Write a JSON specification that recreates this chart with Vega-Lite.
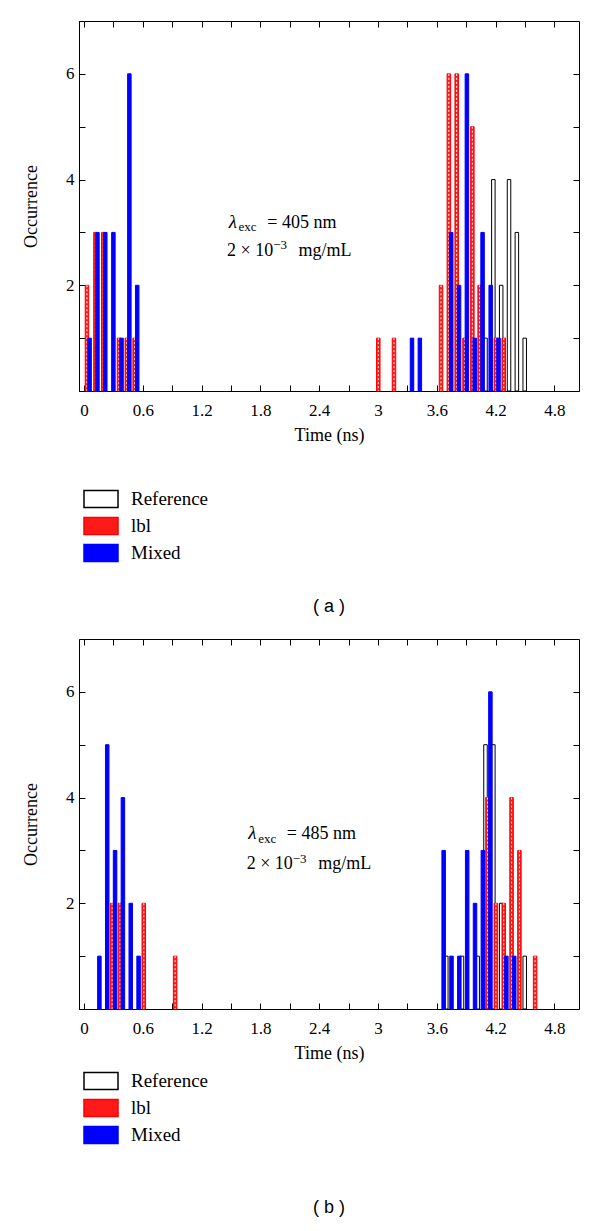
{
  "$schema": "https://vega.github.io/schema/vega-lite/v6.json",
  "background": "white",
  "padding": {"left": 22, "top": 20, "right": 5, "bottom": 5},
  "spacing": 21,
  "resolve": {"legend": {"fill": "independent", "stroke": "independent"}},
  "config": {
    "view": {"stroke": "black", "strokeWidth": 1},
    "font": "Liberation Serif",
    "axis": {"grid": false, "labelFont": "Liberation Serif", "labelFontSize": 17, "titleFont": "Liberation Serif", "titleFontSize": 18, "titleFontWeight": "normal", "labelColor": "black", "titleColor": "black", "tickColor": "black", "domainColor": "black", "tickWidth": 1, "domainWidth": 1},
    "title": {"font": "Liberation Sans", "fontSize": 18, "fontWeight": "normal", "color": "black"},
    "legend": {"labelFont": "Liberation Serif", "labelFontSize": 19, "labelColor": "black"}
  },
  "datasets": {
    "a": [
      {"series": "Reference", "t": 4.097, "n": 1},
      {"series": "Reference", "t": 4.177, "n": 4},
      {"series": "Reference", "t": 4.257, "n": 2},
      {"series": "Reference", "t": 4.337, "n": 4},
      {"series": "Reference", "t": 4.417, "n": 3},
      {"series": "Reference", "t": 4.497, "n": 1},
      {"series": "lbl", "t": 0.03, "n": 2},
      {"series": "lbl", "t": 0.117, "n": 3},
      {"series": "lbl", "t": 0.197, "n": 3},
      {"series": "lbl", "t": 0.357, "n": 1},
      {"series": "lbl", "t": 0.437, "n": 1},
      {"series": "lbl", "t": 0.517, "n": 1},
      {"series": "lbl", "t": 3.003, "n": 1},
      {"series": "lbl", "t": 3.163, "n": 1},
      {"series": "lbl", "t": 3.643, "n": 2},
      {"series": "lbl", "t": 3.723, "n": 6},
      {"series": "lbl", "t": 3.803, "n": 6},
      {"series": "lbl", "t": 3.883, "n": 1},
      {"series": "lbl", "t": 3.963, "n": 5},
      {"series": "lbl", "t": 4.037, "n": 2},
      {"series": "lbl", "t": 4.203, "n": 1},
      {"series": "lbl", "t": 4.283, "n": 1},
      {"series": "Mixed", "t": 0.057, "n": 1},
      {"series": "Mixed", "t": 0.137, "n": 3},
      {"series": "Mixed", "t": 0.217, "n": 3},
      {"series": "Mixed", "t": 0.3, "n": 3},
      {"series": "Mixed", "t": 0.383, "n": 1},
      {"series": "Mixed", "t": 0.463, "n": 6},
      {"series": "Mixed", "t": 0.543, "n": 2},
      {"series": "Mixed", "t": 3.347, "n": 1},
      {"series": "Mixed", "t": 3.427, "n": 1},
      {"series": "Mixed", "t": 3.747, "n": 3},
      {"series": "Mixed", "t": 3.827, "n": 2},
      {"series": "Mixed", "t": 3.907, "n": 6},
      {"series": "Mixed", "t": 3.987, "n": 1},
      {"series": "Mixed", "t": 4.067, "n": 3},
      {"series": "Mixed", "t": 4.15, "n": 2},
      {"series": "Mixed", "t": 4.23, "n": 1}
    ],
    "b": [
      {"series": "Reference", "t": 3.697, "n": 1},
      {"series": "Reference", "t": 3.857, "n": 1},
      {"series": "Reference", "t": 4.017, "n": 1},
      {"series": "Reference", "t": 4.097, "n": 5},
      {"series": "Reference", "t": 4.177, "n": 5},
      {"series": "Reference", "t": 4.257, "n": 2},
      {"series": "Reference", "t": 4.497, "n": 1},
      {"series": "lbl", "t": 0.287, "n": 2},
      {"series": "lbl", "t": 0.367, "n": 2},
      {"series": "lbl", "t": 0.61, "n": 2},
      {"series": "lbl", "t": 0.93, "n": 1},
      {"series": "lbl", "t": 4.117, "n": 4},
      {"series": "lbl", "t": 4.203, "n": 2},
      {"series": "lbl", "t": 4.283, "n": 2},
      {"series": "lbl", "t": 4.363, "n": 4},
      {"series": "lbl", "t": 4.443, "n": 3},
      {"series": "lbl", "t": 4.603, "n": 1},
      {"series": "Mixed", "t": 0.157, "n": 1},
      {"series": "Mixed", "t": 0.237, "n": 5},
      {"series": "Mixed", "t": 0.317, "n": 3},
      {"series": "Mixed", "t": 0.397, "n": 4},
      {"series": "Mixed", "t": 0.477, "n": 2},
      {"series": "Mixed", "t": 0.557, "n": 1},
      {"series": "Mixed", "t": 3.67, "n": 3},
      {"series": "Mixed", "t": 3.75, "n": 1},
      {"series": "Mixed", "t": 3.83, "n": 1},
      {"series": "Mixed", "t": 3.91, "n": 3},
      {"series": "Mixed", "t": 3.99, "n": 2},
      {"series": "Mixed", "t": 4.07, "n": 3},
      {"series": "Mixed", "t": 4.147, "n": 6},
      {"series": "Mixed", "t": 4.31, "n": 1},
      {"series": "Mixed", "t": 4.39, "n": 1}
    ]
  },
  "vconcat": [
    {
      "width": 500,
      "height": 370,
      "title": {"text": "( a )", "orient": "bottom", "anchor": "middle", "offset": 34},
      "data": {"name": "a"},
      "resolve": {"axis": {"x": "independent", "y": "independent"}},
      "layer": [
        {
          "transform": [{"filter": "datum.series != 'Mixed'"}],
          "mark": {"type": "bar", "size": 3.5, "strokeWidth": 1},
          "encoding": {
            "x": {"field": "t", "type": "quantitative", "scale": {"domain": [0, 5], "nice": false, "zero": false},
              "axis": {"orient": "bottom", "values": [0,0.3,0.6,0.9,1.2,1.5,1.8,2.1,2.4,2.7,3,3.3,3.6,3.9,4.2,4.5,4.8], "labelExpr": "round(datum.value*10) % 6 == 0 ? toString(round(datum.value*10)/10) : ''", "tickSize": -6, "labelPadding": 17, "title": "Time (ns)", "titlePadding": 8}},
            "y": {"field": "n", "type": "quantitative", "scale": {"domain": [0, 7], "nice": false},
              "axis": {"orient": "left", "values": [1,2,3,4,5,6], "labelExpr": "datum.value % 2 == 0 ? datum.label : ''", "tickSize": -6, "labelPadding": 11, "title": "Occurrence", "titlePadding": 25}},
            "fill": {"field": "series", "type": "nominal", "scale": {"domain": ["Reference", "lbl", "Mixed"], "range": ["white", "#ff1a1a", "#0000ff"]},
              "legend": {"orient": "none", "legendX": 4, "legendY": 467, "title": null, "symbolType": "M-1,-0.5H1V0.5H-1Z", "symbolSize": 1156, "symbolStrokeWidth": 1.5, "clipHeight": 22, "rowPadding": 5, "labelOffset": 12, "padding": 0}},
            "stroke": {"field": "series", "type": "nominal", "scale": {"domain": ["Reference", "lbl", "Mixed"], "range": ["black", "#ff0000", "#0000ff"]},
              "legend": {"orient": "none", "legendX": 4, "legendY": 467, "title": null, "symbolType": "M-1,-0.5H1V0.5H-1Z", "symbolSize": 1156, "symbolStrokeWidth": 1.5, "clipHeight": 22, "rowPadding": 5, "labelOffset": 12, "padding": 0}}
          }
        },
        {
          "transform": [{"filter": "datum.series == 'lbl'"}],
          "mark": {"type": "rule", "color": "white", "strokeDash": [2, 2], "strokeWidth": 1},
          "encoding": {
            "x": {"field": "t", "type": "quantitative", "axis": null},
            "y": {"field": "n", "type": "quantitative", "axis": null},
            "y2": {"datum": 0}
          }
        },
        {
          "transform": [{"filter": "datum.series == 'Mixed'"}],
          "mark": {"type": "bar", "size": 3.5, "strokeWidth": 1, "fill": "#0000ff", "stroke": "#0000ff"},
          "encoding": {
            "x": {"field": "t", "type": "quantitative", "axis": null},
            "y": {"field": "n", "type": "quantitative", "axis": null}
          }
        },
        {
          "mark": {"type": "point", "opacity": 0},
          "encoding": {
            "x": {"field": "t", "type": "quantitative", "axis": {"orient": "top", "values": [0,0.3,0.6,0.9,1.2,1.5,1.8,2.1,2.4,2.7,3,3.3,3.6,3.9,4.2,4.5,4.8], "labels": false, "title": null, "tickSize": -6, "domain": false}},
            "y": {"field": "n", "type": "quantitative", "axis": {"orient": "right", "values": [1,2,3,4,5,6], "labels": false, "title": null, "tickSize": -6, "domain": false}}
          }
        },
        {
          "data": {"values": [{}]},
          "mark": {"type": "text", "align": "left", "baseline": "alphabetic", "fontSize": 19, "fontStyle": "italic", "font": "Liberation Serif"},
          "encoding": {"x": {"datum": 1.477, "type": "quantitative", "axis": null}, "y": {"datum": 3.09, "type": "quantitative", "axis": null}, "text": {"value": "λ"}}
        },
        {
          "data": {"values": [{}]},
          "mark": {"type": "text", "align": "left", "baseline": "alphabetic", "fontSize": 13, "font": "Liberation Serif"},
          "encoding": {"x": {"datum": 1.577, "type": "quantitative", "axis": null}, "y": {"datum": 3.02, "type": "quantitative", "axis": null}, "text": {"value": "exc"}}
        },
        {
          "data": {"values": [{}]},
          "mark": {"type": "text", "align": "left", "baseline": "alphabetic", "fontSize": 18, "font": "Liberation Serif"},
          "encoding": {"x": {"datum": 1.87, "type": "quantitative", "axis": null}, "y": {"datum": 3.09, "type": "quantitative", "axis": null}, "text": {"value": "= 405 nm"}}
        },
        {
          "data": {"values": [{}]},
          "mark": {"type": "text", "align": "left", "baseline": "alphabetic", "fontSize": 18, "font": "Liberation Serif"},
          "encoding": {"x": {"datum": 1.46, "type": "quantitative", "axis": null}, "y": {"datum": 2.56, "type": "quantitative", "axis": null}, "text": {"value": "2 × 10"}}
        },
        {
          "data": {"values": [{}]},
          "mark": {"type": "text", "align": "left", "baseline": "alphabetic", "fontSize": 13, "font": "Liberation Serif"},
          "encoding": {"x": {"datum": 1.93, "type": "quantitative", "axis": null}, "y": {"datum": 2.68, "type": "quantitative", "axis": null}, "text": {"value": "−3"}}
        },
        {
          "data": {"values": [{}]},
          "mark": {"type": "text", "align": "left", "baseline": "alphabetic", "fontSize": 18, "font": "Liberation Serif"},
          "encoding": {"x": {"datum": 2.19, "type": "quantitative", "axis": null}, "y": {"datum": 2.56, "type": "quantitative", "axis": null}, "text": {"value": "mg/mL"}}
        }
      ]
    },
    {
      "width": 500,
      "height": 370,
      "title": {"text": "( b )", "orient": "bottom", "anchor": "middle", "offset": 53},
      "data": {"name": "b"},
      "resolve": {"axis": {"x": "independent", "y": "independent"}},
      "layer": [
        {
          "transform": [{"filter": "datum.series != 'Mixed'"}],
          "mark": {"type": "bar", "size": 3.5, "strokeWidth": 1},
          "encoding": {
            "x": {"field": "t", "type": "quantitative", "scale": {"domain": [0, 5], "nice": false, "zero": false},
              "axis": {"orient": "bottom", "values": [0,0.3,0.6,0.9,1.2,1.5,1.8,2.1,2.4,2.7,3,3.3,3.6,3.9,4.2,4.5,4.8], "labelExpr": "round(datum.value*10) % 6 == 0 ? toString(round(datum.value*10)/10) : ''", "tickSize": -6, "labelPadding": 17, "title": "Time (ns)", "titlePadding": 8}},
            "y": {"field": "n", "type": "quantitative", "scale": {"domain": [0, 7], "nice": false},
              "axis": {"orient": "left", "values": [1,2,3,4,5,6], "labelExpr": "datum.value % 2 == 0 ? datum.label : ''", "tickSize": -6, "labelPadding": 11, "title": "Occurrence", "titlePadding": 25}},
            "fill": {"field": "series", "type": "nominal", "scale": {"domain": ["Reference", "lbl", "Mixed"], "range": ["white", "#ff1a1a", "#0000ff"]},
              "legend": {"orient": "none", "legendX": 4, "legendY": 431, "title": null, "symbolType": "M-1,-0.5H1V0.5H-1Z", "symbolSize": 1156, "symbolStrokeWidth": 1.5, "clipHeight": 22, "rowPadding": 5, "labelOffset": 12, "padding": 0}},
            "stroke": {"field": "series", "type": "nominal", "scale": {"domain": ["Reference", "lbl", "Mixed"], "range": ["black", "#ff0000", "#0000ff"]},
              "legend": {"orient": "none", "legendX": 4, "legendY": 431, "title": null, "symbolType": "M-1,-0.5H1V0.5H-1Z", "symbolSize": 1156, "symbolStrokeWidth": 1.5, "clipHeight": 22, "rowPadding": 5, "labelOffset": 12, "padding": 0}}
          }
        },
        {
          "transform": [{"filter": "datum.series == 'lbl'"}],
          "mark": {"type": "rule", "color": "white", "strokeDash": [2, 2], "strokeWidth": 1},
          "encoding": {
            "x": {"field": "t", "type": "quantitative", "axis": null},
            "y": {"field": "n", "type": "quantitative", "axis": null},
            "y2": {"datum": 0}
          }
        },
        {
          "transform": [{"filter": "datum.series == 'Mixed'"}],
          "mark": {"type": "bar", "size": 3.5, "strokeWidth": 1, "fill": "#0000ff", "stroke": "#0000ff"},
          "encoding": {
            "x": {"field": "t", "type": "quantitative", "axis": null},
            "y": {"field": "n", "type": "quantitative", "axis": null}
          }
        },
        {
          "mark": {"type": "point", "opacity": 0},
          "encoding": {
            "x": {"field": "t", "type": "quantitative", "axis": {"orient": "top", "values": [0,0.3,0.6,0.9,1.2,1.5,1.8,2.1,2.4,2.7,3,3.3,3.6,3.9,4.2,4.5,4.8], "labels": false, "title": null, "tickSize": -6, "domain": false}},
            "y": {"field": "n", "type": "quantitative", "axis": {"orient": "right", "values": [1,2,3,4,5,6], "labels": false, "title": null, "tickSize": -6, "domain": false}}
          }
        },
        {
          "data": {"values": [{}]},
          "mark": {"type": "text", "align": "left", "baseline": "alphabetic", "fontSize": 19, "fontStyle": "italic", "font": "Liberation Serif"},
          "encoding": {"x": {"datum": 1.677, "type": "quantitative", "axis": null}, "y": {"datum": 3.21, "type": "quantitative", "axis": null}, "text": {"value": "λ"}}
        },
        {
          "data": {"values": [{}]},
          "mark": {"type": "text", "align": "left", "baseline": "alphabetic", "fontSize": 13, "font": "Liberation Serif"},
          "encoding": {"x": {"datum": 1.777, "type": "quantitative", "axis": null}, "y": {"datum": 3.14, "type": "quantitative", "axis": null}, "text": {"value": "exc"}}
        },
        {
          "data": {"values": [{}]},
          "mark": {"type": "text", "align": "left", "baseline": "alphabetic", "fontSize": 18, "font": "Liberation Serif"},
          "encoding": {"x": {"datum": 2.07, "type": "quantitative", "axis": null}, "y": {"datum": 3.21, "type": "quantitative", "axis": null}, "text": {"value": "= 485 nm"}}
        },
        {
          "data": {"values": [{}]},
          "mark": {"type": "text", "align": "left", "baseline": "alphabetic", "fontSize": 18, "font": "Liberation Serif"},
          "encoding": {"x": {"datum": 1.66, "type": "quantitative", "axis": null}, "y": {"datum": 2.64, "type": "quantitative", "axis": null}, "text": {"value": "2 × 10"}}
        },
        {
          "data": {"values": [{}]},
          "mark": {"type": "text", "align": "left", "baseline": "alphabetic", "fontSize": 13, "font": "Liberation Serif"},
          "encoding": {"x": {"datum": 2.13, "type": "quantitative", "axis": null}, "y": {"datum": 2.77, "type": "quantitative", "axis": null}, "text": {"value": "−3"}}
        },
        {
          "data": {"values": [{}]},
          "mark": {"type": "text", "align": "left", "baseline": "alphabetic", "fontSize": 18, "font": "Liberation Serif"},
          "encoding": {"x": {"datum": 2.39, "type": "quantitative", "axis": null}, "y": {"datum": 2.64, "type": "quantitative", "axis": null}, "text": {"value": "mg/mL"}}
        }
      ]
    }
  ]
}
